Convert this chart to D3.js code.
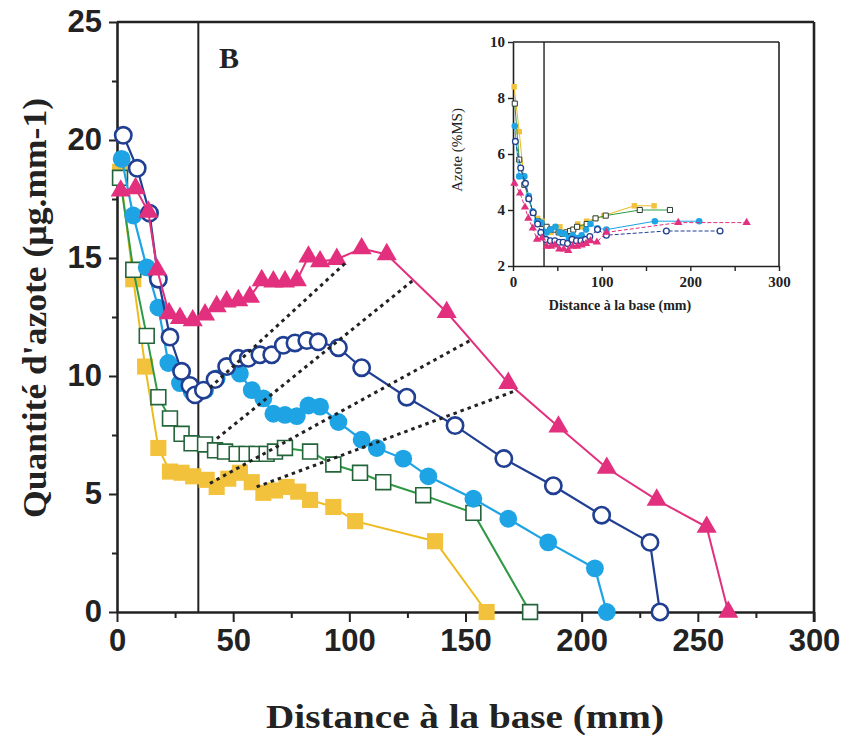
<!DOCTYPE html>
<html><head><meta charset="utf-8">
<script src="https://cdn.jsdelivr.net/npm/d3@7"></script>
<style>body{margin:0;background:#fff}svg{display:block}</style>
</head><body>
<svg id="c" width="841" height="736"></svg>
<script>
// ---------- DATA (main chart: Quantité d'azote, µg.mm-1) ----------
const yellowX = [1.3,7.0,12.1,17.8,22.8,27.8,32.8,38.6,42.9,47.9,52.9,58,63,68,73,78,83.1,93.1,102.5,136.9,159.1];
const yellowY = [18.65,14.1,10.4,6.95,5.95,5.9,5.75,5.6,5.3,5.65,5.9,5.5,5.05,5.15,5.3,5.1,4.75,4.45,3.85,3.0,0];
const greenX = [1.3,7.0,12.8,17.8,22.8,27.8,32.1,37.9,42.2,46.5,51.5,55.8,60.1,64.4,68,72.3,83.1,93.1,104.6,114.6,131.8,153.4,177.8];
const greenY = [18.4,14.5,11.7,9.1,8.2,7.55,7.15,7.1,6.85,6.8,6.7,6.7,6.7,6.7,6.8,6.95,6.8,6.25,5.9,5.5,4.95,4.2,0];
const lblueX = [2.0,7.0,12.8,17.8,22.1,27.1,32.1,37.9,42.9,47.9,52.9,58,63,67.3,72.3,77.4,82.4,87.4,95.3,105.3,111.8,123.2,134,153.4,168.4,185.6,205.7,210.8];
const lblueY = [19.2,16.8,14.6,12.9,10.55,9.7,9.35,9.4,9.9,10.4,10.1,9.4,9.05,8.4,8.35,8.3,8.75,8.7,8.05,7.3,6.95,6.5,5.75,4.8,3.95,2.95,1.85,0];
const navyX = [2.7,8.7,14.0,17.8,22.8,27.8,31.4,33.6,37.2,42.2,47.2,52.2,56.5,61.5,66.6,71.6,76.6,81.7,86.6,95.3,105.3,124.7,145.5,166.5,187.8,208.6,229.4,233.7];
const navyY = [20.2,18.8,16.9,14.1,11.65,10.2,9.6,9.2,9.4,9.85,10.4,10.75,10.75,10.9,10.9,11.3,11.4,11.5,11.45,11.2,10.35,9.1,7.9,6.5,5.35,4.1,2.95,0];
const pinkX = [1.6,8.0,13.5,17.3,22.4,27.1,32.6,37.9,42.9,47.2,52.2,57.2,62.3,67.3,72.3,77.4,82.4,87.4,94.6,105.3,116.1,141.9,168.4,190,210.8,232.3,253.8,263.1];
const pinkY = [17.85,17.95,16.95,14.5,12.65,12.45,12.35,12.6,12.95,13.15,13.2,13.35,14.05,14.0,14.0,14.05,15.05,14.85,14.95,15.4,15.15,12.7,9.7,7.85,6.1,4.75,3.6,0];
// dotted connecting lines
const dotX1 = [40.0,43.0,40.0,60.1];
const dotY1 = [9.5,7.35,5.45,5.3];
const dotX2 = [99.0,127.4,151.9,172.2];
const dotY2 = [14.85,14.05,11.5,9.4];

// ---------- DATA (inset: Azote %MS) ----------
const inYellowX = [1.3,7.0,12.1,17.8,22.8,27.8,32.8,38.6,42.9,47.9,52.9,58,63,68,73,78,83.1,93.1,102.5,136.9,159.1];
const inYellowY = [8.4,6.8,5.2,4.4,3.9,3.7,3.6,3.3,3.2,3.4,3.4,3.2,3.2,3.3,3.5,3.4,3.6,3.7,3.8,4.15,4.15];
const inGreenX = [2.0,7.0,12.8,17.8,22.8,27.8,32.1,37.9,42.2,46.5,51.5,55.8,60.1,64.4,68,72.3,83.1,93.1,104.6,143,177];
const inGreenY = [7.8,5.8,4.9,4.4,3.9,3.6,3.5,3.4,3.3,3.3,3.2,3.15,3.2,3.25,3.3,3.4,3.5,3.7,3.8,4.0,4.0];
const inBlueX = [2.0,7.0,12.8,17.8,22.1,27.1,32.1,37.9,42.9,47.9,52.9,58,63,67.3,72.3,77.4,82.4,87.4,95.3,105.3,160,210];
const inBlueY = [7.0,5.2,5.2,4.5,3.95,3.6,3.55,3.2,3.3,3.4,3.2,3.15,3.0,3.1,3.0,3.1,3.3,3.5,3.35,3.3,3.6,3.6];
const inNavyX = [2.7,8.7,14.0,17.8,22.8,27.8,31.4,37.2,42.2,47.2,52.2,56.5,61.5,66.6,71.6,76.6,81.7,86.6,95.3,105.3,173,233.5];
const inNavyY = [6.45,5.5,4.95,4.4,3.9,3.5,3.2,2.95,2.9,2.9,2.85,2.85,2.8,2.95,2.9,2.9,2.95,3.05,3.3,3.1,3.25,3.25];
const inPinkX = [1.6,8.0,13.5,17.3,22.4,27.1,32.6,37.9,42.9,47.2,52.2,57.2,62.3,67.3,72.3,77.4,82.4,87.4,94.6,105.3,186.4,263.5];
const inPinkY = [4.95,4.6,4.1,3.7,3.35,2.95,3.0,2.7,2.7,2.75,2.6,2.6,2.55,2.7,2.7,2.75,2.8,2.9,2.85,3.2,3.55,3.55];

// ticks
const mainXTicks = [0,50,100,150,200,250,300];
const mainYTicks = [0,5,10,15,20,25];
const insetXTicks = [0,100,200,300];
const insetYTicks = [2,4,6,8,10];
const cutoffX = 35;

// ---------- DRAW ----------
const svg = d3.select('#c');
const zip = (xs, ys) => xs.map((x,i)=>[x, ys[i]]);

const x = d3.scaleLinear([0,300],[117,814]);
const y = d3.scaleLinear([0,25],[612,22]);

const numFont = '"Liberation Sans Narrow","Arial Narrow","Liberation Sans",sans-serif';
const serif = '"Liberation Serif","Times New Roman",serif';

const gx = svg.append('g').attr('transform','translate(0,612)')
  .call(d3.axisBottom(x).tickValues(mainXTicks).tickSize(10).tickSizeOuter(0).tickPadding(4));
svg.append('g').attr('transform','translate(0,612)')
  .call(d3.axisBottom(x).tickValues(d3.range(25,300,50)).tickSize(6).tickFormat('').tickSizeOuter(0))
  .select('.domain').remove();
const gy = svg.append('g').attr('transform','translate(117,0)')
  .call(d3.axisLeft(y).tickValues(mainYTicks).tickSize(8).tickSizeOuter(0).tickPadding(7));
svg.append('g').attr('transform','translate(117,0)')
  .call(d3.axisLeft(y).tickValues(d3.range(2.5,25,5)).tickSize(5).tickFormat('').tickSizeOuter(0))
  .select('.domain').remove();
svg.selectAll('.domain').attr('stroke','#222').attr('stroke-width',2.6);
svg.selectAll('.tick line').attr('stroke','#222').attr('stroke-width',2);
gx.selectAll('text').attr('font-family',numFont).attr('font-weight','bold').attr('font-size',31).attr('fill','#222').attr('dy','0.8em');
gy.selectAll('text').attr('font-family',numFont).attr('font-weight','bold').attr('font-size',31).attr('fill','#222');

svg.append('line').attr('x1',x(0)).attr('x2',x(300)).attr('y1',y(25)).attr('y2',y(25)).attr('stroke','#222').attr('stroke-width',2.6);
svg.append('line').attr('x1',x(300)).attr('x2',x(300)).attr('y1',y(25)).attr('y2',y(0)+10).attr('stroke','#222').attr('stroke-width',2.6);
svg.append('line').attr('x1',x(cutoffX)).attr('x2',x(cutoffX)).attr('y1',y(25)).attr('y2',y(0)).attr('stroke','#222').attr('stroke-width',2);

svg.append('text').attr('x',465).attr('y',728).attr('text-anchor','middle')
  .attr('font-family',serif).attr('font-weight','bold').attr('font-size',34).attr('fill','#222')
  .attr('textLength',398).attr('lengthAdjust','spacingAndGlyphs')
  .text('Distance à la base (mm)');
svg.append('text').attr('transform','translate(46,308) rotate(-90)').attr('text-anchor','middle')
  .attr('font-family',serif).attr('font-weight','bold').attr('font-size',33).attr('fill','#222')
  .attr('textLength',420).attr('lengthAdjust','spacingAndGlyphs')
  .text("Quantité d'azote (µg.mm-1)");
svg.append('text').attr('x',229).attr('y',68).attr('text-anchor','middle')
  .attr('font-family',serif).attr('font-weight','bold').attr('font-size',30).attr('fill','#222').text('B');

// ---------- INSET ----------
const ix = d3.scaleLinear([0,300],[513,779]);
const iy = d3.scaleLinear([2,10],[266,42]);
const igx = svg.append('g').attr('transform','translate(0,266)')
  .call(d3.axisBottom(ix).tickValues(d3.range(0,301,50)).tickSize(5).tickSizeOuter(0).tickPadding(5)
    .tickFormat(d => insetXTicks.includes(d) ? d : ''));
const igy = svg.append('g').attr('transform','translate(513,0)')
  .call(d3.axisLeft(iy).tickValues(insetYTicks).tickSize(5).tickSizeOuter(0).tickPadding(3));
[igx,igy].forEach(g=>{
  g.select('.domain').attr('stroke','#222').attr('stroke-width',1.6);
  g.selectAll('.tick line').attr('stroke','#222').attr('stroke-width',1.4);
  g.selectAll('text').attr('font-family',serif).attr('font-weight','bold').attr('font-size',15).attr('fill','#222');
});
svg.append('line').attr('x1',ix(0)).attr('x2',ix(300)).attr('y1',iy(10)).attr('y2',iy(10)).attr('stroke','#222').attr('stroke-width',1.6);
svg.append('line').attr('x1',ix(300)).attr('x2',ix(300)).attr('y1',iy(10)).attr('y2',iy(2)).attr('stroke','#222').attr('stroke-width',1.6);
svg.append('line').attr('x1',ix(cutoffX)).attr('x2',ix(cutoffX)).attr('y1',iy(10)).attr('y2',iy(2)).attr('stroke','#222').attr('stroke-width',1.4);
svg.append('text').attr('x',620).attr('y',310).attr('text-anchor','middle')
  .attr('font-family',serif).attr('font-weight','bold').attr('font-size',14).attr('fill','#222')
  .text('Distance à la base (mm)');
svg.append('text').attr('transform','translate(462,150) rotate(-90)').attr('text-anchor','middle')
  .attr('font-family',serif).attr('font-size',15).attr('fill','#222')
  .text('Azote (%MS)');

// ---------- SERIES ----------
const C = {yellow:'#f3c23c', yellowLine:'#ecbb1e', green:'#2f9a45', greenEdge:'#23643a',
           lblue:'#1ea3e4', navy:'#213f92', pink:'#e2307e'};

function series(sx, sy, xs, ys, opt){
  const pts = zip(xs, ys);
  const line = d3.line().x(d=>sx(d[0])).y(d=>sy(d[1]));
  svg.append('path').datum(pts).attr('d',line).attr('fill','none')
    .attr('stroke',opt.line).attr('stroke-width',opt.lw).attr('stroke-dasharray',opt.dash||null);
  svg.append('g').selectAll('path').data(pts).join('path')
    .attr('transform',d=>`translate(${sx(d[0])},${sy(d[1])})`)
    .attr('d',d3.symbol().type(opt.sym).size(opt.size))
    .attr('fill',opt.fill).attr('stroke',opt.stroke||'none').attr('stroke-width',opt.sw||0);
}

series(ix,iy,inYellowX,inYellowY,{line:C.yellowLine,lw:1,sym:d3.symbolSquare,size:30,fill:C.yellow});
series(ix,iy,inGreenX,inGreenY,{line:C.green,lw:1,sym:d3.symbolSquare,size:26,fill:'#fff',stroke:'#2a3a30',sw:1});
series(ix,iy,inBlueX,inBlueY,{line:C.lblue,lw:1,sym:d3.symbolCircle,size:34,fill:C.lblue});
series(ix,iy,inNavyX,inNavyY,{line:C.navy,lw:1,dash:'4,2',sym:d3.symbolCircle,size:26,fill:'#fff',stroke:C.navy,sw:1.3});
series(ix,iy,inPinkX,inPinkY,{line:C.pink,lw:1,dash:'4,2',sym:d3.symbolTriangle,size:30,fill:C.pink});

series(x,y,yellowX,yellowY,{line:C.yellowLine,lw:2,sym:d3.symbolSquare,size:260,fill:C.yellow});
series(x,y,greenX,greenY,{line:C.green,lw:2,sym:d3.symbolSquare,size:220,fill:'#fff',stroke:C.greenEdge,sw:1.6});
series(x,y,lblueX,lblueY,{line:C.lblue,lw:2.2,sym:d3.symbolCircle,size:250,fill:C.lblue});
series(x,y,navyX,navyY,{line:C.navy,lw:2.2,sym:d3.symbolCircle,size:210,fill:'#fff',stroke:C.navy,sw:2.6});
series(x,y,pinkX,pinkY,{line:C.pink,lw:2,sym:d3.symbolTriangle,size:175,fill:C.pink});

svg.append('g').selectAll('line').data(dotX1.map((v,i)=>i)).join('line')
  .attr('x1',i=>x(dotX1[i])).attr('y1',i=>y(dotY1[i]))
  .attr('x2',i=>x(dotX2[i])).attr('y2',i=>y(dotY2[i]))
  .attr('stroke','#222').attr('stroke-width',3).attr('stroke-dasharray','3.5,4');
</script>
</body></html>
